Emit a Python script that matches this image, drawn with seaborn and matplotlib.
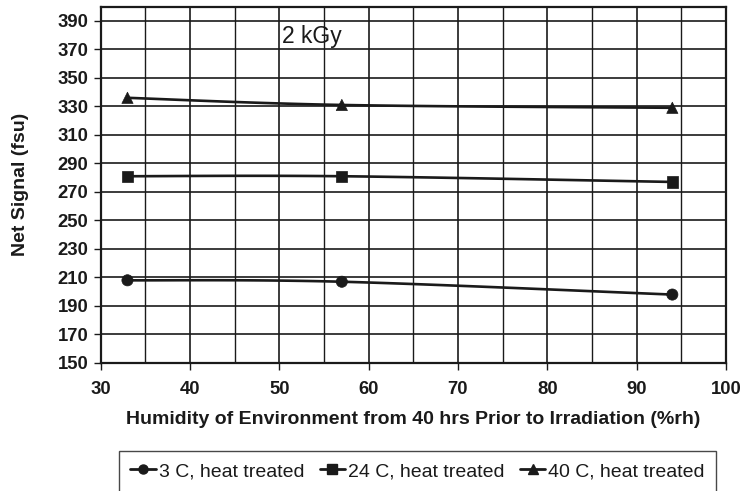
import numpy as np
import pandas as pd
import matplotlib
matplotlib.use("Agg")
import matplotlib.pyplot as plt
from matplotlib.lines import Line2D
import seaborn as sns

# Measured net signal after 2 kGy, by storage humidity
humidity = [33, 57, 94]
signal_3c = [208, 207, 198]
signal_24c = [281, 281, 277]
signal_40c = [336, 331, 329]
series_names = ["3 C, heat treated", "24 C, heat treated", "40 C, heat treated"]
series_markers = ["o", "s", "^"]
y_ticks = list(range(150, 400, 20))
x_ticks = list(range(30, 101, 10))


def smooth_path(xs, ys, n=60):
    """Cubic Bezier smoothing through the given points (spreadsheet-style smoothed line)."""
    pts = np.column_stack([xs, ys]).astype(float)
    out = []
    for i in range(len(pts) - 1):
        p0 = pts[max(i - 1, 0)]
        p1 = pts[i]
        p2 = pts[i + 1]
        p3 = pts[min(i + 2, len(pts) - 1)]
        c1 = p1 + (p2 - p0) / 6.0
        c2 = p2 - (p3 - p1) / 6.0
        t = np.linspace(0, 1, n)[:, None]
        seg = ((1 - t) ** 3) * p1 + 3 * ((1 - t) ** 2) * t * c1 + 3 * (1 - t) * t ** 2 * c2 + t ** 3 * p2
        out.append(seg if i == 0 else seg[1:])
    seg = np.vstack(out)
    return seg[:, 0], seg[:, 1]


sns.set_theme(style="white")
plt.rcParams["font.family"] = ["Liberation Sans", "DejaVu Sans"]

fig = plt.figure(figsize=(7.43, 4.91), dpi=100)
ax = fig.add_axes([0.1355, 0.2607, 0.8415, 0.7259])

ink = "#1a1a1a"
rows = []
for name, vals in zip(series_names, [signal_3c, signal_24c, signal_40c]):
    sx, sy = smooth_path(humidity, vals)
    rows.append(pd.DataFrame({"x": sx, "y": sy, "series": name}))
curves = pd.concat(rows, ignore_index=True)

sns.lineplot(data=curves, x="x", y="y", hue="series", sort=False,
             palette=[ink] * 3, linewidth=1.9, legend=False, ax=ax, zorder=4)

points = pd.DataFrame({
    "x": humidity * 3,
    "y": signal_3c + signal_24c + signal_40c,
    "series": np.repeat(series_names, len(humidity)),
})
sns.scatterplot(data=points, x="x", y="y", style="series", markers=dict(zip(series_names, series_markers)),
                color=ink, s=65, edgecolor=ink, linewidth=0.5, legend=False, ax=ax, zorder=5)

ax.set_xlim(30, 100)
ax.set_ylim(150, 400)
ax.set_xticks(x_ticks)
ax.set_xticks(list(range(35, 100, 10)), minor=True)
ax.set_yticks(y_ticks)
ax.grid(True, which="major", color=ink, linewidth=1.2)
ax.grid(True, which="minor", axis="x", color=ink, linewidth=1.0)
ax.set_axisbelow(True)
for sp in ax.spines.values():
    sp.set_visible(True)
    sp.set_color(ink)
    sp.set_linewidth(1.6)

ax.tick_params(axis="both", which="major", direction="out", length=5, width=1.0, color=ink,
               labelsize=13.3, labelcolor=ink, bottom=True, left=True, pad=4)
ax.tick_params(axis="x", which="minor", length=0)
for lab in ax.get_xticklabels() + ax.get_yticklabels():
    lab.set_fontweight("bold")
ax.tick_params(axis="x", pad=8)

ax.set_xlabel("Humidity of Environment from 40 hrs Prior to Irradiation (%rh)",
              fontsize=14, fontweight="bold", color=ink, labelpad=9)
ax.set_ylabel("Net Signal (fsu)", fontsize=14, fontweight="bold", color=ink, labelpad=20)

ax.text(50.3, 379, "2 kGy", fontsize=16.5, color=ink, va="center", ha="left", zorder=6)

handles = [Line2D([0], [0], color=ink, linewidth=2.0, marker=m, markersize=6.5,
                  markerfacecolor=ink, markeredgecolor=ink) for m in series_markers]
leg = fig.legend(handles, series_names, loc="center", bbox_to_anchor=(0.562, 0.04), ncol=3,
                 fontsize=14, frameon=True, fancybox=False, edgecolor=ink, handlelength=1.3,
                 handletextpad=0.15, columnspacing=0.8, borderpad=0.6, borderaxespad=0)
leg.get_frame().set_linewidth(1.0)
for t in leg.get_texts():
    t.set_color(ink)

fig.savefig("out.png", dpi=100, facecolor="white")
